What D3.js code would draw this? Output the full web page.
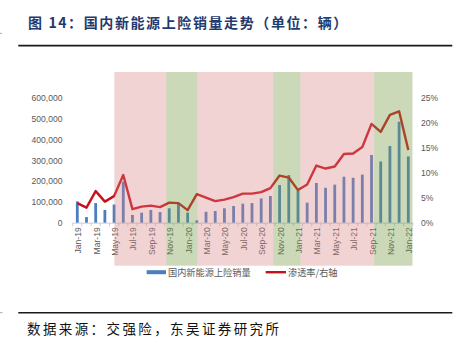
<!DOCTYPE html>
<html>
<head>
<meta charset="utf-8">
<script src="https://cdn.jsdelivr.net/npm/d3@7"></script>
<style>
  html, body { margin: 0; padding: 0; background: #fff; }
  svg { display: block; }
  text { font-family: "Liberation Sans", Arial, sans-serif; }
  .cjk { font-family: "Noto Sans CJK SC", sans-serif; }
</style>
</head>
<body>
<svg id="chart" width="460" height="341"></svg>
<script>
// Monthly categories
const months = [
  "Jan-19","Feb-19","Mar-19","Apr-19","May-19","Jun-19","Jul-19","Aug-19","Sep-19","Oct-19","Nov-19","Dec-19",
  "Jan-20","Feb-20","Mar-20","Apr-20","May-20","Jun-20","Jul-20","Aug-20","Sep-20","Oct-20","Nov-20","Dec-20",
  "Jan-21","Feb-21","Mar-21","Apr-21","May-21","Jun-21","Jul-21","Aug-21","Sep-21","Oct-21","Nov-21","Dec-21",
  "Jan-22"
];

// 国内新能源上险销量 (辆)
const insuredSales = [
  102000, 27000, 94000, 61000, 87000, 196000, 37000, 48000, 61000, 51000, 69000, 93000,
  48000, 11000, 52000, 56000, 69000, 80000, 91000, 94000, 116000, 128000, 180000, 228000,
  152000, 96000, 190000, 167000, 182000, 220000, 215000, 230000, 324000, 293000, 367000, 483000,
  317000
];

// 渗透率 (%), right axis
const penetration = [
  3.9, 3.0, 6.3, 4.2, 5.3, 9.5, 2.7, 3.2, 3.4, 3.1, 4.0, 3.9,
  2.5, 5.7, 5.0, 4.3, 4.6, 5.1, 5.8, 5.8, 6.1, 6.9, 9.4, 9.0,
  6.5, 7.6, 11.4, 10.8, 11.2, 13.7, 13.8, 15.1, 19.7, 18.1, 21.5, 22.2,
  14.5
];

// Tick values
const leftTicks = [0, 100000, 200000, 300000, 400000, 500000, 600000];
const rightTicks = [0, 5, 10, 15, 20, 25];

// Highlighted periods, in month positions (0 = Jan-19)
const periodKinds = ["pink", "green", "pink", "green", "pink", "green"];
const periodStarts = [4.03, 9.68, 13.1, 21.3, 24.28, 32.28];
const periodEnds   = [9.68, 13.1, 21.3, 24.28, 32.28, 36.45];

const svg = d3.select("#chart");

// Layout
const plotLeft = 72.7, plotRight = 412.9;
const yBase = 222.7, yTop = 97.3;
const shadeTop = 72, shadeBottom = 265.7;

const x = d3.scaleBand().domain(months).range([plotLeft, plotRight]).paddingInner(0).paddingOuter(0);
const step = x.step();
const xc = m => x(m) + step / 2;
const xPos = i => plotLeft + step / 2 + i * step;

const yLeft = d3.scaleLinear().domain([0, 600000]).range([yBase, yTop]);
const yRight = d3.scaleLinear().domain([0, 25]).range([yBase, yTop]);

const labelColor = "#595959";

// Left axis
const leftAxis = d3.axisLeft(yLeft).tickValues(leftTicks).tickFormat(d3.format(",")).tickSize(0).tickPadding(0);
const gL = svg.append("g").attr("transform", `translate(62.5,0)`).call(leftAxis);
gL.select(".domain").remove();
gL.selectAll("text").attr("fill", labelColor).style("font-size", "8.6px").attr("dy", "0.35em");

// Right axis
const rightAxis = d3.axisRight(yRight).tickValues(rightTicks).tickFormat(d => d + "%").tickSize(0).tickPadding(0);
const gR = svg.append("g").attr("transform", `translate(421,0)`).call(rightAxis);
gR.select(".domain").remove();
gR.selectAll("text").attr("fill", labelColor).style("font-size", "8.6px").attr("dy", "0.35em");

// Baseline and month ticks
svg.append("line")
  .attr("x1", plotLeft).attr("x2", plotRight)
  .attr("y1", yBase + 0.5).attr("y2", yBase + 0.5)
  .attr("stroke", "#d0d0d0").attr("stroke-width", 1);
svg.append("g").selectAll("line")
  .data(d3.range(months.length + 1))
  .join("line")
  .attr("x1", i => plotLeft + i * step).attr("x2", i => plotLeft + i * step)
  .attr("y1", yBase).attr("y2", yBase + 3.5)
  .attr("stroke", "#d0d0d0").attr("stroke-width", 1);

// Bars
const barW = 2.8;
svg.append("g").selectAll("rect")
  .data(months.map((m, i) => ({ m, v: insuredSales[i] })))
  .join("rect")
  .attr("x", d => xc(d.m) - barW / 2)
  .attr("width", barW)
  .attr("y", d => yLeft(d.v))
  .attr("height", d => yBase - yLeft(d.v))
  .attr("fill", "#4a7ec0");

// Penetration line
const line = d3.line()
  .x((d, i) => xc(months[i]))
  .y(d => yRight(d));
svg.append("path")
  .datum(penetration)
  .attr("d", line)
  .attr("fill", "none")
  .attr("stroke", "#c8101a")
  .attr("stroke-width", 2.4)
  .attr("stroke-linejoin", "round");

// Month labels every two months
svg.append("g").selectAll("text")
  .data(months.filter((m, i) => i % 2 === 0))
  .join("text")
  .attr("transform", m => `translate(${xc(m) + 1},${yBase + 4.5}) rotate(-90)`)
  .attr("text-anchor", "end")
  .attr("dy", "0.35em")
  .attr("fill", labelColor)
  .style("font-size", "8.6px")
  .text(m => m);

// Translucent period shading laid over the plot
const shadeFill = { pink: "rgba(214,128,128,0.35)", green: "rgba(118,155,68,0.38)" };
svg.append("g").selectAll("rect")
  .data(periodKinds.map((k, i) => ({ k, s: periodStarts[i], e: periodEnds[i] })))
  .join("rect")
  .attr("x", d => xPos(d.s))
  .attr("width", d => xPos(d.e) - xPos(d.s))
  .attr("y", shadeTop)
  .attr("height", shadeBottom - shadeTop)
  .attr("fill", d => shadeFill[d.k]);

// Legend
const legend = svg.append("g");
legend.append("rect").attr("x", 146.7).attr("y", 270.2).attr("width", 19.3).attr("height", 4).attr("fill", "#4a7ec0");
legend.append("text").attr("class", "cjk").attr("x", 168).attr("y", 272.3).attr("dy", "0.35em")
  .attr("fill", labelColor).style("font-size", "9.2px").text("国内新能源上险销量");
legend.append("line").attr("x1", 265.7).attr("x2", 286).attr("y1", 272.2).attr("y2", 272.2)
  .attr("stroke", "#c8101a").attr("stroke-width", 2.4);
legend.append("text").attr("class", "cjk").attr("x", 288).attr("y", 272.3).attr("dy", "0.35em")
  .attr("fill", labelColor).style("font-size", "9.2px").text("渗透率/右轴");

// Title and rules
svg.append("text").attr("class", "cjk")
  .attr("x", 28).attr("y", 22.7).attr("dy", "0.36em")
  .attr("fill", "#1f3a6e").style("font-size", "14px").style("font-weight", "700")
  .style("letter-spacing", "1.6px")
  .text("图 14：国内新能源上险销量走势（单位：辆）");
svg.append("line").attr("x1", 18.3).attr("x2", 452.3).attr("y1", 45.7).attr("y2", 45.7)
  .attr("stroke", "#1a1a1a").attr("stroke-width", 1.8);
svg.append("line").attr("x1", 18.3).attr("x2", 452.3).attr("y1", 312.7).attr("y2", 312.7)
  .attr("stroke", "#1a1a1a").attr("stroke-width", 1.6);

// Source note
svg.append("text").attr("class", "cjk")
  .attr("x", 27).attr("y", 329.5).attr("dy", "0.36em")
  .attr("fill", "#111").style("font-size", "13.5px")
  .style("letter-spacing", "2.4px")
  .text("数据来源：交强险，东吴证券研究所");

// Page edge marks
svg.append("line").attr("x1", 0).attr("x2", 2).attr("y1", 33.3).attr("y2", 33.3).attr("stroke", "#aaa");
svg.append("line").attr("x1", 0).attr("x2", 2.5).attr("y1", 312.7).attr("y2", 312.7).attr("stroke", "#aaa");
</script>
</body>
</html>
